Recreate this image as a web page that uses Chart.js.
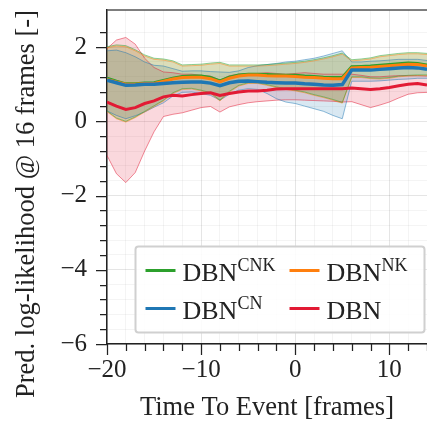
<!DOCTYPE html>
<html>
<head>
<meta charset="utf-8">
<script src="https://cdn.jsdelivr.net/npm/chart.js@4.4.1/dist/chart.umd.min.js"></script>
<style>
  html, body { margin: 0; padding: 0; background: #fff; }
</style>
</head>
<body>
<canvas id="chart" width="427" height="422"></canvas>
<script>
// time to event, one sample per frame
const frames = [-20, -19, -18, -17, -16, -15, -14, -13, -12, -11, -10, -9, -8, -7, -6, -5, -4, -3,
  -2, -1, 0, 1, 2, 3, 4, 5, 6, 7, 8, 9, 10, 11, 12, 13, 14];

// DBN^CNK
const cnkMean = [1.16, 1.08, 1.01, 1.01, 1.03, 1.04, 1.10, 1.16, 1.21, 1.22, 1.22, 1.18, 1.09, 1.19, 1.25, 1.27, 1.27, 1.26,
  1.25, 1.24, 1.24, 1.22, 1.21, 1.19, 1.18, 1.18, 1.47, 1.48, 1.49, 1.51, 1.53, 1.55, 1.57, 1.56, 1.52];
const cnkHi = [2.01, 2.06, 2.04, 1.93, 1.79, 1.70, 1.68, 1.63, 1.52, 1.53, 1.54, 1.57, 1.59, 1.52, 1.52, 1.52, 1.52, 1.53,
  1.55, 1.57, 1.59, 1.62, 1.66, 1.71, 1.77, 1.84, 1.66, 1.68, 1.71, 1.77, 1.80, 1.83, 1.85, 1.85, 1.83];
const cnkLo = [0.28, 0.09, 0.00, 0.12, 0.27, 0.42, 0.57, 0.77, 0.88, 0.89, 0.84, 0.77, 0.57, 0.81, 0.97, 1.04, 1.04, 0.99,
  0.93, 0.88, 0.84, 0.79, 0.72, 0.66, 0.59, 0.51, 1.20, 1.20, 1.17, 1.16, 1.18, 1.22, 1.24, 1.25, 1.25];

// DBN^NK
const nkMean = [1.13, 1.06, 1.00, 1.00, 1.02, 1.02, 1.08, 1.14, 1.18, 1.19, 1.19, 1.15, 1.06, 1.16, 1.22, 1.25, 1.25, 1.23,
  1.22, 1.22, 1.21, 1.19, 1.18, 1.16, 1.15, 1.15, 1.44, 1.45, 1.46, 1.48, 1.50, 1.52, 1.54, 1.53, 1.49];
const nkHi = [1.98, 2.03, 2.01, 1.90, 1.76, 1.67, 1.65, 1.60, 1.49, 1.50, 1.51, 1.54, 1.56, 1.49, 1.49, 1.49, 1.49, 1.50,
  1.52, 1.54, 1.56, 1.59, 1.63, 1.68, 1.74, 1.81, 1.63, 1.65, 1.68, 1.74, 1.77, 1.80, 1.82, 1.82, 1.80];
const nkLo = [0.26, 0.07, -0.02, 0.10, 0.25, 0.40, 0.55, 0.75, 0.86, 0.87, 0.82, 0.75, 0.55, 0.79, 0.95, 1.02, 1.02, 0.97,
  0.91, 0.86, 0.82, 0.77, 0.70, 0.64, 0.57, 0.49, 1.18, 1.18, 1.15, 1.14, 1.16, 1.20, 1.22, 1.23, 1.23];

// DBN^CN
const cnMean = [1.11, 1.04, 0.97, 0.98, 1.00, 1.00, 1.02, 1.04, 1.05, 1.06, 1.06, 1.03, 0.96, 1.04, 1.08, 1.09, 1.07, 1.05,
  1.04, 1.03, 1.03, 1.01, 1.00, 0.98, 0.97, 0.99, 1.38, 1.38, 1.38, 1.40, 1.42, 1.44, 1.45, 1.44, 1.40];
const cnHi = [1.90, 1.92, 1.85, 1.74, 1.60, 1.51, 1.49, 1.42, 1.35, 1.36, 1.36, 1.34, 1.33, 1.32, 1.36, 1.45, 1.50, 1.53,
  1.56, 1.60, 1.62, 1.66, 1.70, 1.76, 1.83, 1.90, 1.60, 1.60, 1.62, 1.63, 1.65, 1.67, 1.67, 1.67, 1.64];
const cnLo = [0.28, 0.16, 0.07, 0.15, 0.25, 0.38, 0.50, 0.68, 0.78, 0.79, 0.75, 0.70, 0.57, 0.73, 0.84, 0.88, 0.86, 0.75,
  0.61, 0.52, 0.48, 0.41, 0.34, 0.27, 0.16, 0.07, 1.08, 1.08, 1.08, 1.09, 1.11, 1.13, 1.14, 1.16, 1.16];

// DBN
const dbnMean = [0.52, 0.41, 0.32, 0.37, 0.48, 0.55, 0.66, 0.70, 0.68, 0.72, 0.75, 0.77, 0.70, 0.75, 0.79, 0.82, 0.82, 0.84,
  0.87, 0.88, 0.88, 0.88, 0.88, 0.88, 0.88, 0.88, 0.90, 0.88, 0.86, 0.88, 0.91, 0.96, 1.00, 1.02, 0.98];
const dbnHi = [1.96, 2.19, 2.26, 2.08, 1.70, 1.45, 1.33, 1.31, 1.27, 1.27, 1.24, 1.22, 1.11, 1.23, 1.27, 1.29, 1.29, 1.31,
  1.29, 1.27, 1.29, 1.31, 1.29, 1.27, 1.27, 1.27, 1.27, 1.24, 1.20, 1.20, 1.22, 1.23, 1.23, 1.23, 1.22];
const dbnLo = [-0.92, -1.41, -1.65, -1.38, -0.80, -0.28, 0.13, 0.19, 0.23, 0.30, 0.37, 0.40, 0.25, 0.39, 0.45, 0.50, 0.53, 0.55,
  0.57, 0.58, 0.58, 0.57, 0.56, 0.55, 0.54, 0.52, 0.53, 0.45, 0.37, 0.44, 0.52, 0.63, 0.73, 0.77, 0.78];

const SERIF = "'Liberation Serif', 'DejaVu Serif', serif";
const INK = '#222';

const series = [
  { base: 'DBN', sup: 'CNK', color: [44, 160, 44], mean: cnkMean, lo: cnkLo, hi: cnkHi, order: 4 },
  { base: 'DBN', sup: 'NK', color: [255, 127, 14], mean: nkMean, lo: nkLo, hi: nkHi, order: 3 },
  { base: 'DBN', sup: 'CN', color: [31, 119, 180], mean: cnMean, lo: cnLo, hi: cnHi, order: 2 },
  { base: 'DBN', sup: '', color: [226, 26, 52], mean: dbnMean, lo: dbnLo, hi: dbnHi, order: 1 },
];
// legend is two columns, filled column by column
const legendOrder = [0, 2, 1, 3];

const rgba = (c, a) => `rgba(${c[0]},${c[1]},${c[2]},${a})`;
const pts = arr => frames.map((x, i) => ({ x, y: arr[i] }));
const fmt = v => (v < 0 ? '\u2212' + Math.abs(v) : String(v));
const isMult = (v, step) => Math.abs(v / step - Math.round(v / step)) < 1e-6;

const datasets = [];
series.forEach(s => {
  datasets.push({
    data: pts(s.hi), borderColor: rgba(s.color, 0.5), borderWidth: 1,
    backgroundColor: rgba(s.color, 0.17), fill: '+1', order: 10,
  });
  datasets.push({
    data: pts(s.lo), borderColor: rgba(s.color, 0.5), borderWidth: 1, fill: false, order: 10,
  });
});
series.forEach(s => {
  datasets.push({
    label: s.base + s.sup, data: pts(s.mean), borderColor: rgba(s.color, 1),
    borderWidth: s.sup === 'CN' ? 3.5 : 3, fill: false, order: s.order,
  });
});

// tick marks, top spine and the two-column legend with superscripts
const decor = {
  id: 'decor',
  afterDraw(chart) {
    const { ctx, chartArea: a, scales } = chart;
    ctx.save();
    ctx.strokeStyle = INK;
    ctx.lineWidth = 1.25;
    ctx.beginPath();
    scales.x.ticks.forEach(t => {
      if (!isMult(t.value, 2)) return;
      const px = Math.round(scales.x.getPixelForValue(t.value)) + 0.5;
      const len = isMult(t.value, 10) ? 11 : 7;
      ctx.moveTo(px, a.bottom);
      ctx.lineTo(px, a.bottom + len);
    });
    scales.y.ticks.forEach(t => {
      if (!isMult(t.value, 0.4)) return;
      const py = Math.round(scales.y.getPixelForValue(t.value)) + 0.5;
      const len = isMult(t.value, 2) ? 11 : 7;
      ctx.moveTo(a.left - len, py);
      ctx.lineTo(a.left, py);
    });
    ctx.stroke();

    ctx.strokeStyle = '#555';
    ctx.lineWidth = 1.5;
    ctx.beginPath();
    ctx.moveTo(a.left, a.top);
    ctx.lineTo(a.right, a.top);
    ctx.stroke();

    // legend frame
    const bx = a.left + 28.5, by = a.bottom - 97.5, bw = 289, bh = 86;
    ctx.fillStyle = 'rgba(255,255,255,0.85)';
    ctx.strokeStyle = '#d0d0d0';
    ctx.lineWidth = 2;
    ctx.beginPath();
    ctx.roundRect(bx, by, bw, bh, 3);
    ctx.fill();
    ctx.stroke();

    legendOrder.forEach((si, k) => {
      const s = series[si];
      const col = Math.floor(k / 2), row = k % 2;
      const x0 = bx + 10 + col * 144;
      const ly = by + 24 + row * 38;
      ctx.strokeStyle = rgba(s.color, 1);
      ctx.lineWidth = 3;
      ctx.beginPath();
      ctx.moveTo(x0, ly);
      ctx.lineTo(x0 + 30, ly);
      ctx.stroke();
      ctx.fillStyle = INK;
      ctx.textBaseline = 'alphabetic';
      ctx.textAlign = 'left';
      ctx.font = `26px ${SERIF}`;
      const tx = x0 + 37;
      ctx.fillText(s.base, tx, ly + 10);
      if (s.sup) {
        const w = ctx.measureText(s.base).width;
        ctx.font = `18px ${SERIF}`;
        ctx.fillText(s.sup, tx + w, ly);
      }
    });
    ctx.restore();
  }
};

new Chart(document.getElementById('chart'), {
  type: 'line',
  data: { datasets },
  plugins: [decor],
  options: {
    responsive: false,
    animation: false,
    devicePixelRatio: 1,
    layout: { padding: { top: 10, left: 0, right: 0, bottom: 0 } },
    elements: { point: { radius: 0 }, line: { tension: 0 } },
    plugins: {
      legend: { display: false },
      tooltip: { enabled: false },
      filler: { drawTime: 'beforeDatasetsDraw' },
    },
    scales: {
      x: {
        type: 'linear',
        min: -20,
        max: 14,
        afterFit: s => { s.height = 78; s.paddingLeft = 0; s.paddingRight = 0; },
        ticks: {
          stepSize: 2,
          autoSkip: false,
          maxRotation: 0,
          padding: 14,
          color: INK,
          font: { family: SERIF, size: 25, lineHeight: 1 },
          callback: v => (isMult(v, 10) ? fmt(v) : ''),
        },
        grid: {
          drawTicks: false,
          color: c => (isMult(c.tick.value, 10) ? 'rgba(0,0,0,0.10)' : 'rgba(0,0,0,0.045)'),
        },
        border: { color: INK, width: 1.5 },
        title: {
          display: true,
          text: 'Time To Event [frames]',
          color: INK,
          font: { family: SERIF, size: 26.5, lineHeight: 1 },
          padding: { top: 0, bottom: 1 },
        },
      },
      y: {
        min: -6,
        max: 3,
        afterFit: s => { s.width = 107; s.paddingTop = 0; s.paddingBottom = 0; },
        ticks: {
          stepSize: 0.4,
          autoSkip: false,
          padding: 20,
          color: INK,
          font: { family: SERIF, size: 25, lineHeight: 1 },
          callback: v => (isMult(v, 2) ? fmt(v) : ''),
        },
        grid: {
          drawTicks: false,
          color: c => (isMult(c.tick.value, 2) ? 'rgba(0,0,0,0.10)' : 'rgba(0,0,0,0.045)'),
        },
        border: { color: INK, width: 1.5 },
        title: {
          display: true,
          text: 'Pred. log-likelihood @ 16 frames [-]',
          align: 'end',
          color: INK,
          font: { family: SERIF, size: 26.5, lineHeight: 1 },
          padding: { top: 14, bottom: 0 },
        },
      },
    },
  },
});
</script>
</body>
</html>
